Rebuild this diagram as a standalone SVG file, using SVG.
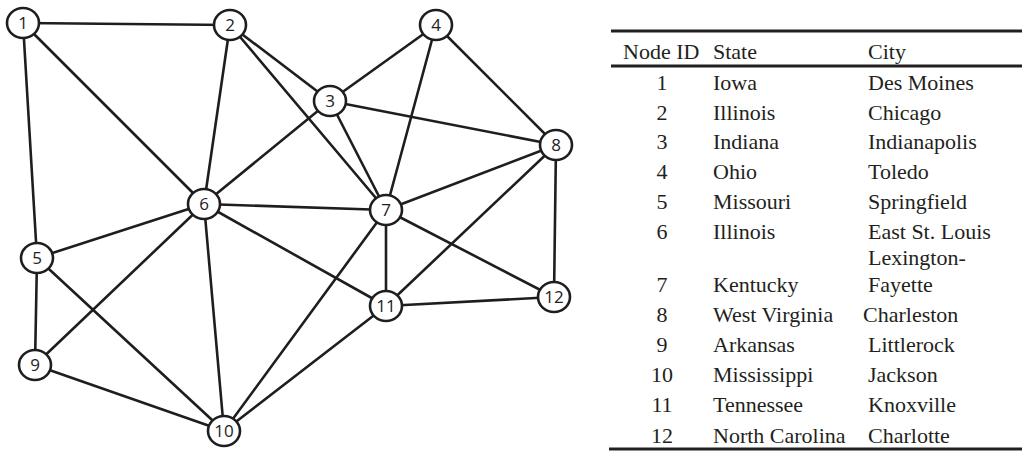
<svg xmlns="http://www.w3.org/2000/svg" width="1025" height="451" viewBox="0 0 1025 451">
<style>
.e{stroke:#1e1e1e;stroke-width:2.6;fill:none;stroke-linecap:round}
.n ellipse{fill:#fff;stroke:#1e1e1e;stroke-width:2.6}
.n text{font-family:"Open Sans","DejaVu Sans",sans-serif;font-size:17px;fill:#222;text-anchor:middle}
.t{font-family:"Liberation Serif","Times New Roman",serif;font-size:22px;fill:#231f20}
.c{text-anchor:middle}
.r{stroke:#231f20;stroke-width:3}
</style>
<rect width="1025" height="451" fill="#fff"/>
<g id="connectors">
<line class="e" x1="23" y1="23" x2="230" y2="25"/>
<line class="e" x1="23" y1="23" x2="37" y2="258"/>
<line class="e" x1="23" y1="23" x2="204" y2="204"/>
<line class="e" x1="230" y1="25" x2="204" y2="204"/>
<line class="e" x1="230" y1="25" x2="386" y2="210"/>
<line class="e" x1="230" y1="25" x2="330" y2="101"/>
<line class="e" x1="330" y1="101" x2="436" y2="25"/>
<line class="e" x1="330" y1="101" x2="556" y2="145"/>
<line class="e" x1="330" y1="101" x2="386" y2="210"/>
<line class="e" x1="330" y1="101" x2="204" y2="204"/>
<line class="e" x1="436" y1="25" x2="386" y2="210"/>
<line class="e" x1="436" y1="25" x2="556" y2="145"/>
<line class="e" x1="556" y1="145" x2="386" y2="210"/>
<line class="e" x1="556" y1="145" x2="386" y2="306"/>
<line class="e" x1="556" y1="145" x2="554" y2="297"/>
<line class="e" x1="204" y1="204" x2="37" y2="258"/>
<line class="e" x1="204" y1="204" x2="35" y2="365"/>
<line class="e" x1="204" y1="204" x2="224" y2="431"/>
<line class="e" x1="204" y1="204" x2="386" y2="210"/>
<line class="e" x1="204" y1="204" x2="386" y2="306"/>
<line class="e" x1="37" y1="258" x2="35" y2="365"/>
<line class="e" x1="37" y1="258" x2="224" y2="431"/>
<line class="e" x1="35" y1="365" x2="224" y2="431"/>
<line class="e" x1="386" y1="210" x2="224" y2="431"/>
<line class="e" x1="386" y1="210" x2="386" y2="306"/>
<line class="e" x1="386" y1="210" x2="554" y2="297"/>
<line class="e" x1="386" y1="306" x2="554" y2="297"/>
<line class="e" x1="386" y1="306" x2="224" y2="431"/>
</g>
<g id="node1" class="n"><ellipse cx="23" cy="23" rx="16" ry="15"/><text x="23" y="29">1</text></g>
<g id="node2" class="n"><ellipse cx="230" cy="25" rx="16" ry="15"/><text x="230" y="31">2</text></g>
<g id="node3" class="n"><ellipse cx="330" cy="101" rx="16" ry="15"/><text x="330" y="107">3</text></g>
<g id="node4" class="n"><ellipse cx="436" cy="25" rx="16" ry="15"/><text x="436" y="31">4</text></g>
<g id="node5" class="n"><ellipse cx="37" cy="258" rx="16" ry="15"/><text x="37" y="264">5</text></g>
<g id="node6" class="n"><ellipse cx="204" cy="204" rx="16" ry="15"/><text x="204" y="210">6</text></g>
<g id="node7" class="n"><ellipse cx="386" cy="210" rx="16" ry="15"/><text x="386" y="216">7</text></g>
<g id="node8" class="n"><ellipse cx="556" cy="145" rx="16" ry="15"/><text x="556" y="151">8</text></g>
<g id="node9" class="n"><ellipse cx="35" cy="365" rx="16" ry="15"/><text x="35" y="371">9</text></g>
<g id="node10" class="n"><ellipse cx="224" cy="431" rx="16" ry="15"/><text x="224" y="437">10</text></g>
<g id="node11" class="n"><ellipse cx="386" cy="306" rx="16" ry="15"/><text x="386" y="312">11</text></g>
<g id="node12" class="n"><ellipse cx="554" cy="297" rx="16" ry="15"/><text x="554" y="303">12</text></g>
<g id="table" class="t">
<line class="r" x1="611" y1="31" x2="1022" y2="31"/>
<line class="r" x1="611" y1="66" x2="1022" y2="66"/>
<line class="r" x1="609" y1="449" x2="1022" y2="449"/>
<text x="623" y="59">Node ID</text><text x="713" y="59">State</text><text x="868" y="59">City</text>
<text class="c" x="662" y="90">1</text><text x="713" y="90">Iowa</text><text x="868" y="90">Des Moines</text>
<text class="c" x="662" y="120">2</text><text x="713" y="120">Illinois</text><text x="868" y="120">Chicago</text>
<text class="c" x="662" y="149">3</text><text x="713" y="149">Indiana</text><text x="868" y="149">Indianapolis</text>
<text class="c" x="662" y="179">4</text><text x="713" y="179">Ohio</text><text x="868" y="179">Toledo</text>
<text class="c" x="662" y="209">5</text><text x="713" y="209">Missouri</text><text x="868" y="209">Springfield</text>
<text class="c" x="662" y="239">6</text><text x="713" y="239">Illinois</text><text x="868" y="239">East St. Louis</text>
<text x="868" y="265">Lexington-</text>
<text class="c" x="662" y="292">7</text><text x="713" y="292">Kentucky</text><text x="868" y="292">Fayette</text>
<text class="c" x="662" y="322">8</text><text x="713" y="322">West Virginia</text><text x="863" y="322">Charleston</text>
<text class="c" x="662" y="352">9</text><text x="713" y="352">Arkansas</text><text x="868" y="352">Littlerock</text>
<text class="c" x="662" y="382">10</text><text x="713" y="382">Mississippi</text><text x="868" y="382">Jackson</text>
<text class="c" x="662" y="412">11</text><text x="713" y="412">Tennessee</text><text x="868" y="412">Knoxville</text>
<text class="c" x="662" y="443">12</text><text x="713" y="443">North Carolina</text><text x="868" y="443">Charlotte</text>
</g>
</svg>
